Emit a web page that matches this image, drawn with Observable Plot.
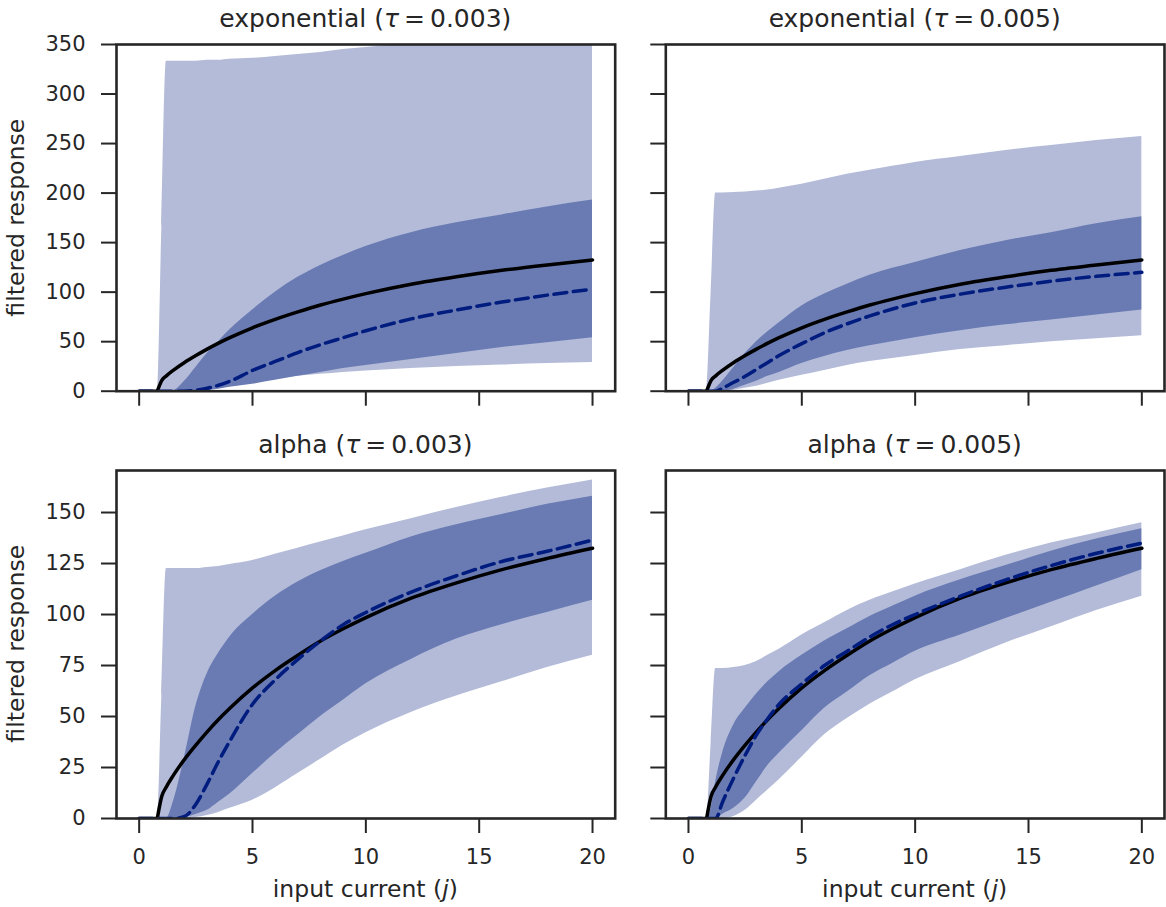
<!DOCTYPE html>
<html><head><meta charset="utf-8">
<script src="https://cdn.jsdelivr.net/npm/d3@7"></script>
<script src="https://cdn.jsdelivr.net/npm/@observablehq/plot@0.6"></script>
<style>
body{margin:0;background:#fff;}
#fig{position:relative;width:1166px;height:907px;font-family:"DejaVu Sans";color:#262626;overflow:hidden;}
.t{position:absolute;font-size:23.5px;line-height:23.5px;text-align:center;white-space:nowrap;}
.ttl{font-size:25px;line-height:25px;}
.p{position:absolute;}
</style></head>
<body><div id="fig"></div>
<script>
// shared x grid (input current j)
const X = [0, 0.8, 1, 1.2, 1.5, 2, 2.5, 3, 3.5, 4, 5, 6, 7, 8, 9, 10, 12, 14, 16, 18, 20];
// ideal response (black, same in every panel)
const ideal = [0, 0, 11, 15.5, 21, 29, 36, 42.5, 48.5, 54, 64, 72.5, 80, 87, 93, 98.5, 108, 115.5, 122, 127.5, 132.5];

// exponential tau=0.003
const expA_outerLo = [0, 0, 0, 0, 0, 0.5, 1.5, 3, 5, 7, 10, 12.5, 15, 17, 19, 20.5, 23, 25, 26.5, 28, 29];
const expA_outerHi = [0, 0, 165, 333, 333, 333, 333, 334, 334, 335, 336, 338, 340, 342, 345, 347, 351, 355, 358, 361, 364];
const expA_innerLo = [0, 0, 0, 0, 0, 0, 0, 0.5, 2, 4, 7, 11, 15, 19, 23, 26, 32, 38, 44, 49, 54];
const expA_innerHi = [0, 0, 0, 0, 0.5, 10, 24, 38, 50, 62, 82, 100, 115, 127, 137, 146, 160, 170, 178, 186, 193];
const expA_mean = [0, 0, 0, 0, 0, 0, 1, 3, 6, 10, 21, 30, 39, 47, 54, 61, 73, 82, 90, 97, 103];

// exponential tau=0.005
const expB_outerLo = [0, 0, 0, 0, 0, 1, 3, 5, 8, 11, 16, 21, 26, 30, 33, 36, 42, 46, 50, 53, 56];
const expB_outerHi = [0, 0, 100, 200, 200, 200.5, 201, 202, 203, 205, 209, 214, 219, 223, 227, 231, 237, 243, 248, 253, 257];
const expB_innerLo = [0, 0, 0, 0, 0, 2, 6, 10, 15, 19, 28, 35, 41, 46, 50, 54, 61, 67, 72, 77, 82];
const expB_innerHi = [0, 0, 0, 3, 10, 24, 38, 50, 60, 69, 86, 98, 108, 117, 124, 130, 142, 152, 160, 169, 176];
const expB_mean = [0, 0, 0, 0, 3, 9, 15, 22, 29, 36, 48, 59, 68, 76, 83, 89, 98, 105, 111, 116, 120];

// alpha tau=0.003
const alpA_outerLo = [0, 0, 0, 0, 0, 0, 0.5, 1.5, 3, 5, 9, 15, 22, 29, 36, 42, 52, 60, 67, 74, 80];
const alpA_outerHi = [0, 0, 60, 122.5, 122.5, 122.5, 122.5, 123, 123.5, 124.5, 126.5, 129.5, 132.5, 135.5, 138.5, 141.5, 147, 152.5, 157.5, 162, 166];
const alpA_innerLo = [0, 0, 0, 0, 0, 0.5, 2, 4, 8, 12, 22, 32, 41, 50, 58, 66, 78, 88, 95, 101, 107];
const alpA_innerHi = [0, 0, 0, 0, 8, 30, 55, 71, 81, 89, 100, 109, 116, 121.5, 126, 130, 138, 144, 149, 154, 158];
const alpA_mean = [0, 0, 0, 0, 0, 1, 7, 17, 28, 38, 56, 68, 78, 87, 95, 101, 111, 119, 126, 131, 136.5];

// alpha tau=0.005
const alpB_outerLo = [0, 0, 0, 0, 0, 1, 4, 9, 14, 19, 30, 41, 49, 56, 62, 68, 77, 86, 94, 102, 109];
const alpB_outerHi = [0, 0, 37, 73.5, 73.5, 74, 75, 77, 80, 83, 90, 96, 102, 107, 111, 115, 122, 129, 135, 140, 145];
const alpB_innerLo = [0, 0, 0, 0, 2, 5, 10, 18, 26, 32, 43, 54, 62, 70, 76, 82, 90, 98, 106, 114, 122];
const alpB_innerHi = [0, 0, 5, 18, 32, 46, 54, 61, 67, 72, 80, 87, 93, 99, 104, 109, 117, 124, 131, 137, 142];
const alpB_mean = [0, 0, 0, 0, 8, 20, 31, 41, 49, 56, 66, 75, 82, 89, 95, 100, 109, 117, 124, 130, 135];

const titles = ["exponential", "exponential", "alpha", "alpha"];
const taus = ["0.003", "0.005", "0.003", "0.005"];
const xTicks = [0, 5, 10, 15, 20];
const yTicksTop = [0, 50, 100, 150, 200, 250, 300, 350];
const yTicksBottom = [0, 25, 50, 75, 100, 125, 150];

const LIGHT = "#b3bbd8", DARK = "#6a7bb3", MEAN = "#001c7f", INK = "#262626";
const ONSET = 0.8;

const fig = document.getElementById("fig");

function band(lo, hi) { return X.map((x, i) => ({x, lo: lo[i], hi: hi[i]})); }
function line(v) { return X.map((x, i) => ({x, y: v[i]})); }

function panel(cfg) {
  const {left, top, width, height, fl, fr, ft, fb, yDomain, yTicks, showX, showY, outer, inner, mean} = cfg;
  const idealPts = line(ideal);
  const chart = Plot.plot({
    width, height,
    marginLeft: fl, marginRight: width - fr, marginTop: ft, marginBottom: height - fb,
    x: {domain: [-1, 21]},
    y: {domain: yDomain},
    style: {fontFamily: "DejaVu Sans", fontSize: "21px", color: INK, background: "transparent", overflow: "visible"},
    marks: [
      Plot.areaY(band(outer[0], outer[1]), {x: "x", y1: "lo", y2: "hi", fill: LIGHT, curve: "monotone-x", clip: true}),
      Plot.areaY(band(inner[0], inner[1]), {x: "x", y1: "lo", y2: "hi", fill: DARK, curve: "monotone-x", clip: true}),
      Plot.line(idealPts.filter(d => d.x <= ONSET), {x: "x", y: "y", stroke: "#000", strokeWidth: 3.5, clip: true}),
      Plot.line(idealPts.filter(d => d.x >= ONSET), {x: "x", y: "y", stroke: "#000", strokeWidth: 3.5, curve: "monotone-x", clip: true}),
      Plot.line(line(mean), {x: "x", y: "y", stroke: MEAN, strokeWidth: 3.5, strokeDasharray: "13,6.5", curve: "monotone-x", clip: true}),
      Plot.axisX({ticks: xTicks, tickSize: 15, tickPadding: 16, fontSize: 21, strokeWidth: 2,
        tickFormat: showX ? (d => String(d)) : (() => ""), label: null}),
      Plot.axisY({ticks: yTicks, tickSize: 15, tickPadding: 16, fontSize: 21, strokeWidth: 2,
        tickFormat: showY ? (d => String(d)) : (() => ""), label: null}),
      Plot.frame({stroke: INK, strokeWidth: 2.6})
    ]
  });
  const d = document.createElement("div");
  d.className = "p";
  d.style.left = left + "px"; d.style.top = top + "px";
  d.appendChild(chart);
  fig.appendChild(d);
}

function addText(html, cx, baseline, cls, size) {
  const d = document.createElement("div");
  d.className = "t" + (cls ? " " + cls : "");
  d.innerHTML = html;
  const w = 400;
  d.style.width = w + "px";
  d.style.left = (cx - w / 2) + "px";
  d.style.top = (baseline - 0.846 * size) + "px";
  fig.appendChild(d);
}

const colL = {fl: 116, fr: 614.7};
const colR = {fl: 665.3, fr: 1164};
const rowT = {ft: 44, fb: 390.7};
const rowB = {ft: 470, fb: 818};

const series = [
  {outer: [expA_outerLo, expA_outerHi], inner: [expA_innerLo, expA_innerHi], mean: expA_mean},
  {outer: [expB_outerLo, expB_outerHi], inner: [expB_innerLo, expB_innerHi], mean: expB_mean},
  {outer: [alpA_outerLo, alpA_outerHi], inner: [alpA_innerLo, alpA_innerHi], mean: alpA_mean},
  {outer: [alpB_outerLo, alpB_outerHi], inner: [alpB_innerLo, alpB_innerHi], mean: alpB_mean}
];

[0, 1, 2, 3].forEach(k => {
  const col = k % 2 === 0 ? colL : colR;
  const row = k < 2 ? rowT : rowB;
  const left = k % 2 === 0 ? 0 : 640;
  const top = k < 2 ? 0 : 430;
  const width = k % 2 === 0 ? 640 : 526;
  const height = k < 2 ? 430 : 477;
  panel({
    left, top, width, height,
    fl: col.fl - left, fr: col.fr - left, ft: row.ft - top, fb: row.fb - top,
    yDomain: k < 2 ? [0, 350] : [0, 170.6],
    yTicks: k < 2 ? yTicksTop : yTicksBottom,
    showX: k >= 2, showY: k % 2 === 0,
    ...series[k]
  });
  const cx = (col.fl + col.fr) / 2;
  addText(`${titles[k]} (<i>τ</i>&#8201;=&#8201;${taus[k]})`, cx, row.ft - 16.5, "ttl", 25);
  if (k >= 2) addText(`input current (<i>j</i>)`, cx, 898, "", 23.5);
  if (k % 2 === 0) {
    const d = document.createElement("div");
    d.className = "t";
    d.textContent = "filtered response";
    const w = 400;
    d.style.width = w + "px";
    d.style.left = (17 - w / 2) + "px";
    d.style.top = ((row.ft + row.fb) / 2 - 11.75) + "px";
    d.style.transform = "rotate(-90deg)";
    fig.appendChild(d);
  }
});
</script>
</body></html>
